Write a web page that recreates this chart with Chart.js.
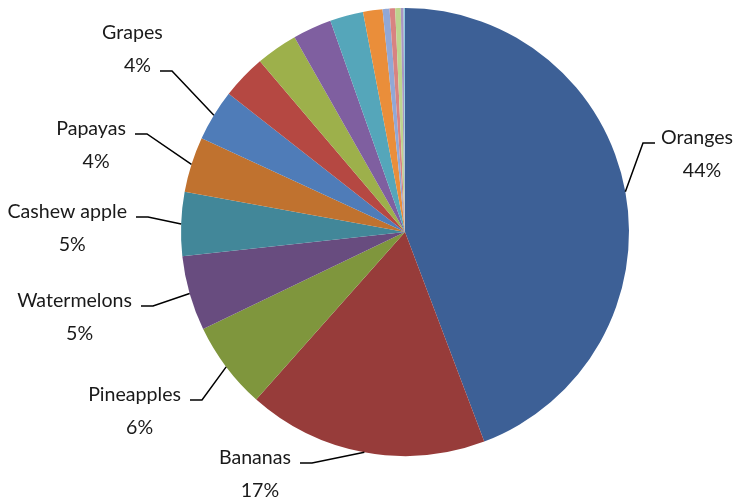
<!DOCTYPE html>
<html>
<head>
<meta charset="utf-8">
<script src="https://cdn.jsdelivr.net/npm/chart.js@4.4.1/dist/chart.umd.min.js"></script>
<style>
  html, body { margin: 0; padding: 0; background: #fff; }
  #wrap { width: 735px; height: 500px; }
</style>
</head>
<body>
<div id="wrap"><canvas id="myChart" width="735" height="500"></canvas></div>
<script>
// Fruit shares (percent), biggest first; the tail slices carry no label
const frutas = ['Oranges', 'Bananas', 'Pineapples', 'Watermelons', 'Cashew apple', 'Papayas', 'Grapes',
    '', '', '', '', '', '', '', '', '', ''];
const porcentajes = [44.2, 17.3, 6.3, 5.4, 4.6, 4.0, 3.7,
    3.2, 3.0, 2.8, 2.4, 1.4, 0.5, 0.4, 0.4, 0.2, 0.1];
const colores = ['#3d6096', '#973c3a', '#7f963d', '#684c7f', '#428799', '#c0722f', '#4f7cb8',
    '#b54842', '#9db04b', '#7f5fa0', '#55a6ba', '#ea8e3a', '#91a8d6', '#d88381', '#bdd48e', '#a996c2', '#8fcbdd'];

// where each leader line bends, relative to the pie centre; fila = which text line it points at
const etiquetas = {
    'Oranges':      { dx: 238,  dy: -89,  lado: 1,  fila: 0 },
    'Bananas':      { dx: -93,  dy: 231,  lado: -1, fila: 0 },
    'Pineapples':   { dx: -203, dy: 168,  lado: -1, fila: 0 },
    'Watermelons':  { dx: -252, dy: 74,   lado: -1, fila: 0 },
    'Cashew apple': { dx: -257, dy: -15,  lado: -1, fila: 0 },
    'Papayas':      { dx: -258, dy: -98,  lado: -1, fila: 0 },
    'Grapes':       { dx: -233, dy: -161, lado: -1, fila: 1 }
};

const fuente = '19.6px Lato';

const etiquetasPlugin = {
    id: 'etiquetasPie',
    afterDatasetsDraw(chart) {
        const ctx = chart.ctx;
        const meta = chart.getDatasetMeta(0);
        const valores = chart.data.datasets[0].data;
        const total = valores.reduce((a, b) => a + b, 0);
        ctx.save();
        ctx.font = fuente;
        ctx.textBaseline = 'middle';
        meta.data.forEach((arc, i) => {
            const nombre = chart.data.labels[i];
            const pos = etiquetas[nombre];
            if (!pos) return;
            const p = arc.getProps(['x', 'y', 'startAngle', 'endAngle', 'outerRadius'], true);
            const medio = (p.startAngle + p.endAngle) / 2;
            const ax = p.x + Math.cos(medio) * p.outerRadius;
            const ay = p.y + Math.sin(medio) * p.outerRadius;
            const ex = p.x + pos.dx;
            const ey = p.y + pos.dy;
            const fx = ex + pos.lado * 12;

            ctx.strokeStyle = '#000';
            ctx.lineWidth = 1.5;
            ctx.beginPath();
            ctx.moveTo(ax, ay);
            ctx.lineTo(ex, ey);
            ctx.lineTo(fx, ey);
            ctx.stroke();

            const pct = Math.round(valores[i] / total * 100) + '%';
            const lineas = [nombre, pct];
            const w = ctx.measureText(lineas[pos.fila]).width;
            const hueco = pos.fila ? 14 : 9;
            // centre of the two-line block
            const cx = pos.lado > 0 ? fx + 6 + w / 2 : fx - hueco - w / 2;
            const y0 = ey - 5 - pos.fila * 33;
            ctx.fillStyle = '#1a1a1a';
            ctx.textAlign = 'center';
            ctx.fillText(nombre, cx, y0);
            ctx.fillText(pct, cx + 5, y0 + 33);
        });
        ctx.restore();
    }
};

new Chart(document.getElementById('myChart'), {
    type: 'pie',
    data: {
        labels: frutas,
        datasets: [{
            data: porcentajes,
            backgroundColor: colores,
            borderWidth: 0
        }]
    },
    options: {
        responsive: false,
        animation: false,
        layout: { padding: { left: 181, right: 106, top: 8, bottom: 44 } },
        plugins: {
            legend: { display: false },
            tooltip: { enabled: false }
        }
    },
    plugins: [etiquetasPlugin]
});
</script>
</body>
</html>
